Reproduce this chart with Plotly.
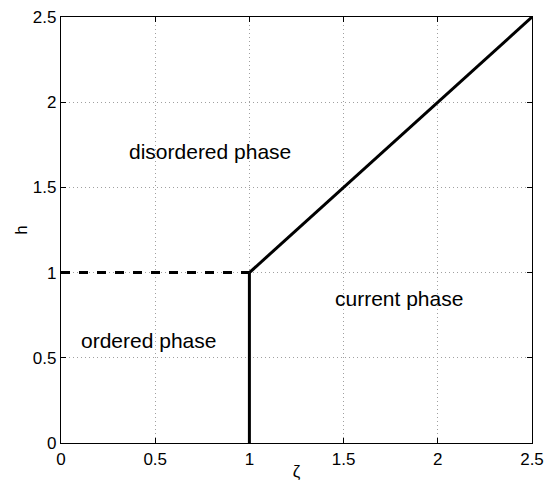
import plotly.graph_objects as go

# Phase boundaries
dash_x = [0, 1]
dash_y = [1, 1]
vert_x = [1, 1]
vert_y = [0, 1]
diag_x = [1, 2.5]
diag_y = [1, 2.5]

tick_vals = [0, 0.5, 1, 1.5, 2, 2.5]
tick_text = ["0", "0.5", "1", "1.5", "2", "2.5"]

labels = ["disordered phase", "ordered phase", "current phase"]
label_x = [0.79, 0.467, 1.794]
label_y = [1.71, 0.60, 0.85]

FONT = "Liberation Sans"

fig = go.Figure()
fig.add_trace(go.Scatter(x=dash_x, y=dash_y, mode="lines",
                         line=dict(color="black", width=3, dash="dash")))
fig.add_trace(go.Scatter(x=vert_x, y=vert_y, mode="lines",
                         line=dict(color="black", width=3)))
fig.add_trace(go.Scatter(x=diag_x, y=diag_y, mode="lines",
                         line=dict(color="black", width=3)))

for t, x, y in zip(labels, label_x, label_y):
    fig.add_annotation(x=x, y=y, text=t, showarrow=False,
                       font=dict(size=21, color="black", family=FONT))

axis_common = dict(
    range=[0, 2.5], tickvals=tick_vals, ticktext=tick_text,
    showgrid=True, gridcolor="#a0a0a0", griddash="1px,3px", gridwidth=1,
    zeroline=False, showline=True, linecolor="black", linewidth=1.3,
    mirror="ticks", ticks="inside", ticklen=5, tickcolor="black",
    tickfont=dict(size=17, color="black", family=FONT),
    automargin=False,
)

fig.update_xaxes(**axis_common,
                 title=dict(text="ζ", font=dict(size=17, color="black", family=FONT), standoff=7))
fig.update_yaxes(**axis_common,
                 title=dict(text="h", font=dict(size=17, color="black", family=FONT), standoff=0))

fig.update_layout(
    width=550, height=481,
    margin=dict(l=61, r=18, t=17, b=38),
    plot_bgcolor="white", paper_bgcolor="white",
    showlegend=False,
)

fig.write_html("out.html")
